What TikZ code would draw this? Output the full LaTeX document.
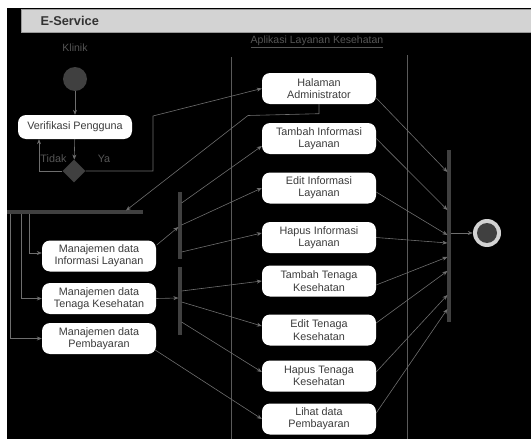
\documentclass[tikz,border=0pt]{standalone}
\usepackage{fontspec}
\setmainfont{Liberation Sans}
\usetikzlibrary{arrows.meta,calc,shapes.geometric}
\definecolor{hdr}{HTML}{D3D3D3}
\definecolor{hdrline}{HTML}{9A9A9A}
\definecolor{lane}{HTML}{5A5A5A}
\definecolor{conn}{HTML}{6E6E6E}
\definecolor{barc}{HTML}{404040}
\definecolor{txt}{HTML}{3C3C3C}
\definecolor{lbl}{HTML}{555555}
\tikzset{
  act/.style={fill=white, rounded corners=8, minimum width=114, minimum height=31,
    inner sep=0, align=center, text=txt, font=\fontsize{10.8}{12.4}\selectfont},
  flow/.style={draw=conn, line width=0.6, -{Stealth[length=5,width=4]}},
  barline/.style={draw=barc, line width=3.2},
  lanetitle/.style={text=lbl, font=\fontsize{10.5}{12}\selectfont},
}
\begin{document}
\begin{tikzpicture}[x=1pt, y=-1pt]
\useasboundingbox (0,0) rectangle (531,439);
% page background and header
\fill[white] (0,0) rectangle (531,439);
\fill[black] (7,8) rectangle (531,439);
\filldraw[fill=hdr, draw=hdrline, line width=0.6] (21,9) rectangle (531,32);
\node[anchor=west, text=black!80, font=\bfseries\fontsize{12.8}{14}\selectfont] (title) at (37,20.5) {E-Service};

% swimlanes
\draw[lane, line width=0.7] (231,57) -- (231,439);
\draw[lane, line width=0.7] (407,55) -- (407,439);
\node[lanetitle] (lane1) at (75,48) {Klinik};
\node[lanetitle] (lane2) at (317,42) {\underline{Aplikasi Layanan Kesehatan}};

% klinik lane
\node[circle, fill=barc, minimum size=24, inner sep=0] (start) at (75,79) {};
\node[act, minimum height=24] (verif) at (75,127) {Verifikasi Pengguna};
\node[diamond, fill=barc, minimum width=23, minimum height=23, inner sep=0] (dia) at (74,171) {};
\node[lanetitle, font=\fontsize{10.8}{12}\selectfont] (tidak) at (53.5,159) {Tidak};
\node[lanetitle, font=\fontsize{10.8}{12}\selectfont] (ya) at (104,159) {Ya};

% activities
\node[act] (halaman) at (319,88.5) {Halaman\\Administrator};
\node[act] (tinfo) at (319,138.5) {Tambah Informasi\\Layanan};
\node[act] (einfo) at (319,188) {Edit Informasi\\Layanan};
\node[act] (hinfo) at (319,237.5) {Hapus Informasi\\Layanan};
\node[act] (tten) at (319,281) {Tambah Tenaga\\Kesehatan};
\node[act] (eten) at (319,330) {Edit Tenaga\\Kesehatan};
\node[act] (hten) at (319,376) {Hapus Tenaga\\Kesehatan};
\node[act] (lihat) at (319,419) {Lihat data\\Pembayaran};
\node[act] (minfo) at (99,256) {Manajemen data\\Informasi Layanan};
\node[act] (mten) at (99,298.5) {Manajemen data\\Tenaga Kesehatan};
\node[act] (mbayar) at (99,338.5) {Manajemen data\\Pembayaran};

% fork and join bars
\draw[barline] (7,212) -- (143,212);
\draw[barline] (180,192) -- (180,259);
\draw[barline] (180,267) -- (180,335);
\draw[barline] (449,150) -- (449,322);
\coordinate (forkin) at (126,210.5);
\coordinate (bend) at (248,115.5);
\coordinate (fa) at (10,213.5);
\coordinate (fb) at (21,213.5);
\coordinate (fc) at (29,213.5);
\coordinate (b1in) at (178.4,227);
\coordinate (b2in) at (178.4,298);
\coordinate (b1a) at (181.6,203);
\coordinate (b1b) at (181.6,225);
\coordinate (b1c) at (181.6,252);
\coordinate (b2a) at (181.6,291);
\coordinate (b2b) at (181.6,302);
\coordinate (b2c) at (181.6,322);
\coordinate (j1) at (447.4,172);
\coordinate (j2) at (447.4,210);
\coordinate (j3) at (447.4,235);
\coordinate (j4) at (447.4,243);
\coordinate (j5) at (447.4,257);
\coordinate (j6) at (447.4,271);
\coordinate (j7) at (447.4,295);
\coordinate (j8) at (447.4,309);
\coordinate (jout) at (450.6,233);

% final node
\node[circle, fill=hdr, minimum size=28, inner sep=0] (endo) at (487,233) {};
\node[circle, fill=barc, minimum size=20, inner sep=0] (endi) at (487,233) {};

% klinik flow
\draw[flow] (start) -- (verif);
\draw[flow] (verif) -- (dia);
\draw[flow] (dia.west) -| ($(verif.south)+(-36,0)$);
\draw[flow] (dia.east) -- (153,171) -- (153,116) -- (halaman.west);
\draw[flow] (halaman.south) -- ($(halaman.south)+(0,9.5)$) -- (bend) -- (forkin);

% fork to management activities
\draw[flow] (fa) |- (mbayar.west);
\draw[flow] (fb) |- (mten.west);
\draw[flow] (fc) |- ($(minfo.west)+(0,-3)$);
\draw[flow] ($(minfo.east)+(0.5,-11)$) -- (b1in);
\draw[flow] (mten.east) -- (b2in);
\draw[flow] ($(mbayar.east)+(-1,11.5)$) -- (lihat.west);

% bars to activities
\draw[flow] (b1a) -- ($(tinfo.west)+(0,7.5)$);
\draw[flow] (b1b) -- (einfo.west);
\draw[flow] (b1c) -- ($(hinfo.west)+(0,-4.5)$);
\draw[flow] (b2a) -- (tten.west);
\draw[flow] (b2b) -- ($(eten.west)+(0,-4)$);
\draw[flow] (b2c) -- ($(hten.west)+(0,-4)$);

% activities to join
\draw[flow] ($(halaman.east)+(0,9.5)$) -- (j1);
\draw[flow] (tinfo.east) -- (j2);
\draw[flow] ($(einfo.east)+(0,4)$) -- (j3);
\draw[flow] (hinfo.east) -- (j4);
\draw[flow] ($(tten.east)+(0,4)$) -- (j5);
\draw[flow] ($(eten.east)+(0,-7)$) -- (j6);
\draw[flow] ($(hten.east)+(0,-4)$) -- (j7);
\draw[flow] ($(lihat.east)+(0,-6)$) -- (j8);
\draw[flow] (jout) -- (endo.west);
\end{tikzpicture}
\end{document}
